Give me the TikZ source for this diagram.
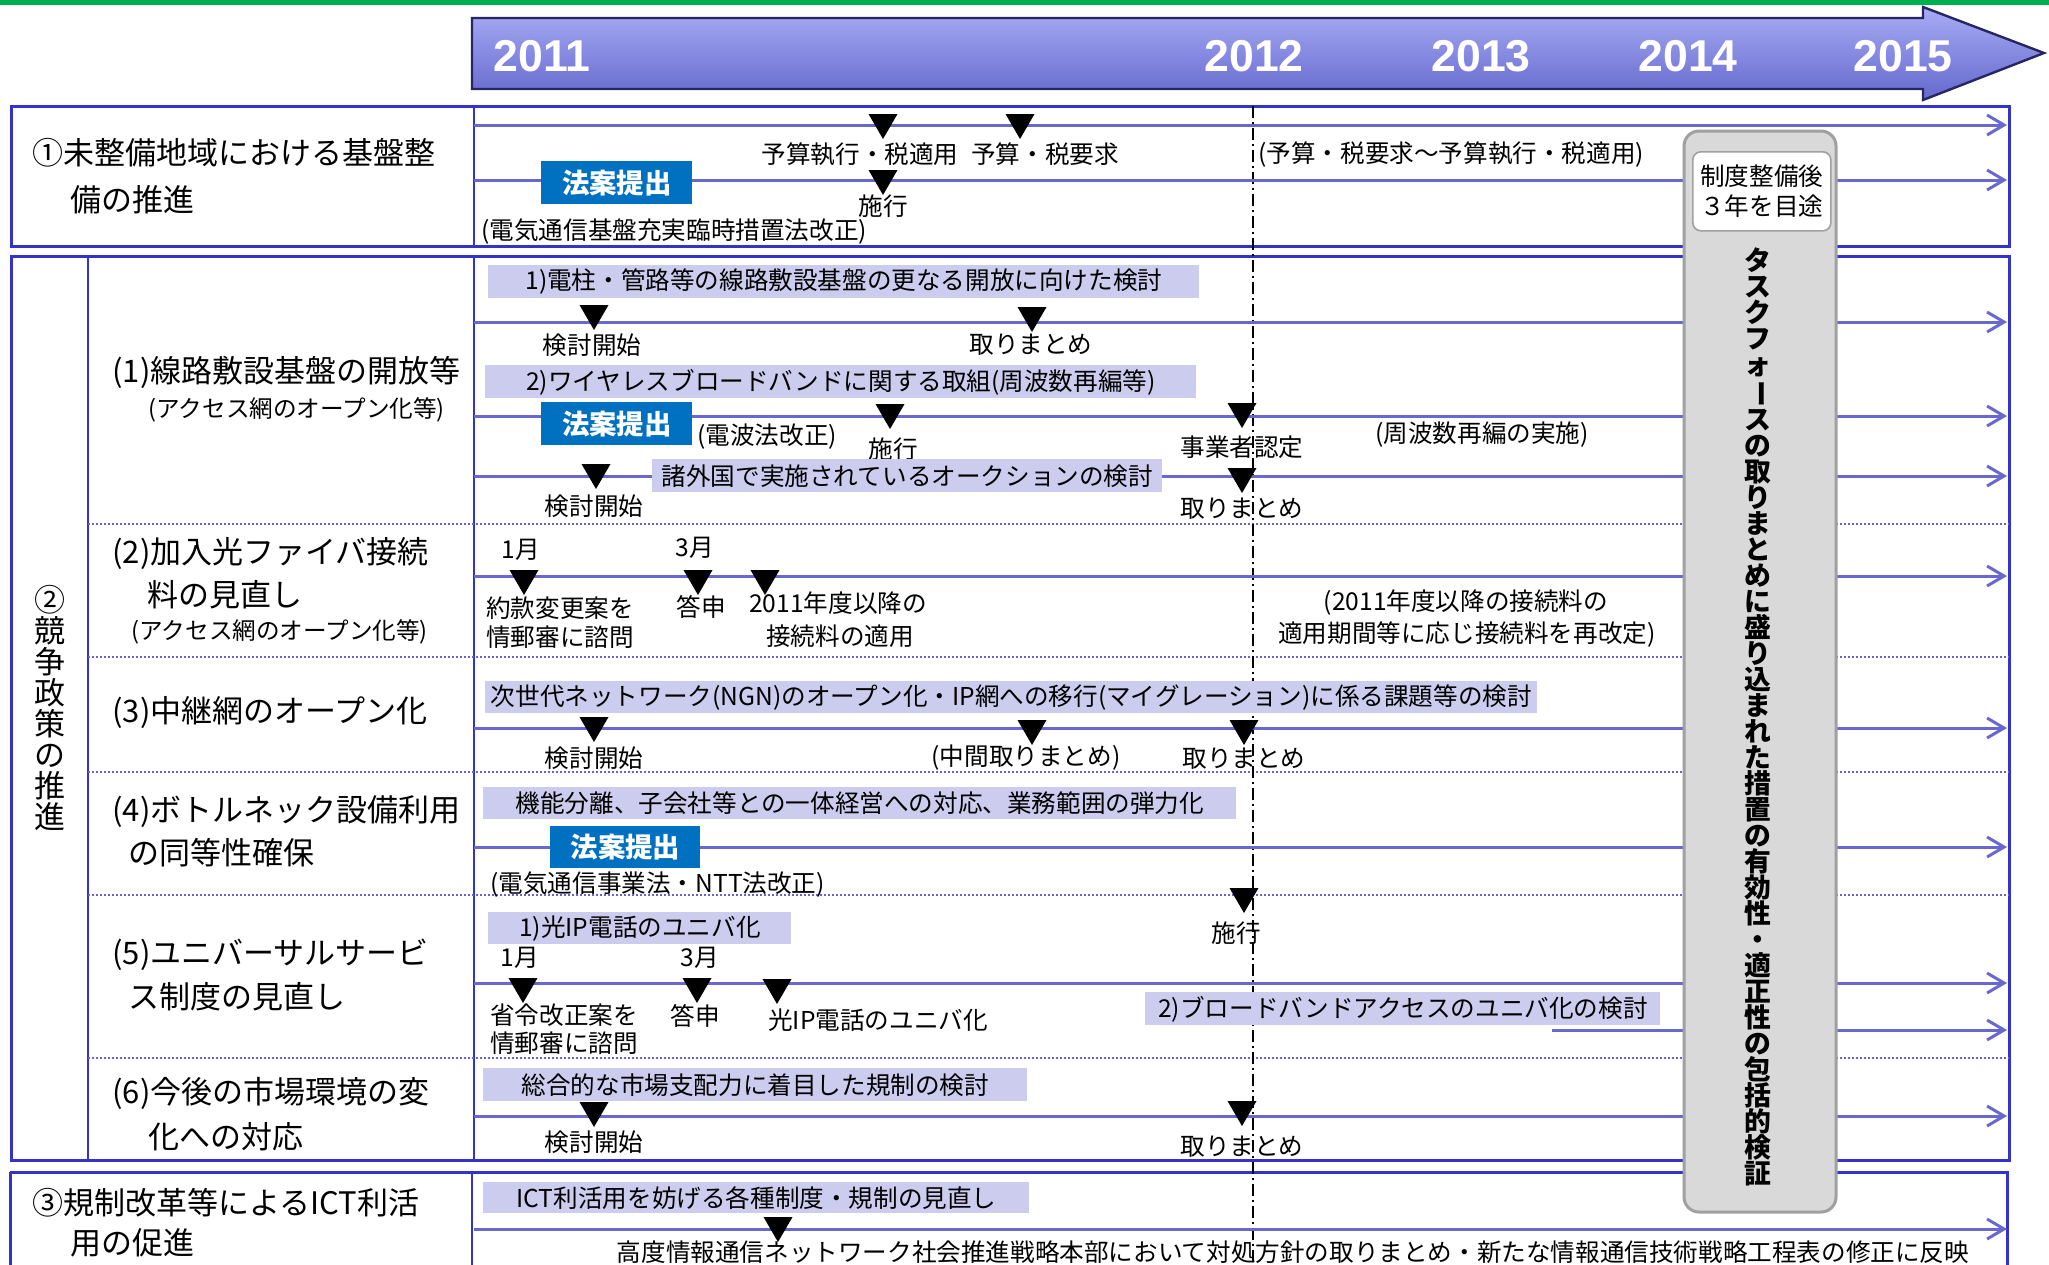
\documentclass[tikz,border=0pt]{standalone}
\usepackage{fontspec}
\usepackage{graphicx}
\setmainfont{Noto Sans CJK JP}
\newfontfamily\yrfont{Liberation Sans}
\usetikzlibrary{arrows.meta}
\definecolor{frameblue}{RGB}{51,51,204}
\definecolor{lineblue}{RGB}{104,104,206}
\definecolor{lav}{RGB}{204,204,238}
\definecolor{lawblue}{RGB}{0,112,192}
\definecolor{navy}{RGB}{38,38,100}
\definecolor{gbfill}{RGB}{217,217,217}
\definecolor{gbdraw}{RGB}{160,160,160}
\definecolor{grn}{RGB}{0,176,80}
\definecolor{sepblue}{RGB}{100,100,215}
\newcommand\tri[2]{\fill (#1-14.5,#2) -- (#1+14.5,#2) -- (#1,#2+25) -- cycle;}
\begin{document}
\begin{tikzpicture}[x=0.5pt,y=-0.5pt,
  lab/.style={font=\fontsize{15.5}{18}\selectfont, inner sep=0, anchor=west},
  sub/.style={font=\fontsize{11.8}{14}\selectfont, inner sep=0, anchor=west},
  t/.style={font=\fontsize{12.3}{14}\selectfont, inner sep=0},
  lbox/.style={fill=lav, inner sep=0, font=\fontsize{12.3}{14}\selectfont, anchor=north west},
  law/.style={fill=lawblue, text=white, font=\bfseries\fontsize{13.7}{15}\selectfont, inner sep=0, anchor=north west},
  yr/.style={text=white, font=\yrfont\bfseries\fontsize{22.3}{24}\selectfont, inner sep=0},
  tl/.style={draw=lineblue, line width=1.5pt, -{Straight Barb[length=8.5pt,width=10pt]}},
  frm/.style={draw=frameblue, line width=1.5pt},
  div/.style={draw=frameblue, line width=1pt},
  sep/.style={draw=sepblue, line width=0.8pt, dash pattern=on 1pt off 1pt},
  dashdot/.style={draw=black, line width=0.7pt, dash pattern=on 6pt off 2pt on 1pt off 2pt}
]
\useasboundingbox (0,0) rectangle (2049,1264);
\fill[grn] (0,0) rectangle (2049,4.5);

% timeline arrow
\shade[top color={rgb,255:red,168;green,172;blue,245}, middle color={rgb,255:red,125;green,128;blue,222}, bottom color={rgb,255:red,100;green,104;blue,205}]
  (472,18) -- (1923,18) -- (1923,7) -- (2044,53) -- (1923,100) -- (1923,89) -- (472,89) -- cycle;
\draw[navy, line width=1.2pt, line join=miter]
  (472,18) -- (1923,18) -- (1923,7) -- (2044,53) -- (1923,100) -- (1923,89) -- (472,89) -- cycle;
\node[yr] (y11) at (542,56) {2011};
\node[yr] (y12) at (1254,56) {2012};
\node[yr] (y13) at (1481,56) {2013};
\node[yr] (y14) at (1688,56) {2014};
\node[yr] (y15) at (1903,56) {2015};

% frames
\draw[frm] (11,106) rectangle (2009,246);
\draw[div] (474,106) -- (474,246);
\draw[frm] (11,256) rectangle (2009,1160);
\draw[div] (88,256) -- (88,1160);
\draw[div] (474,256) -- (474,1160);
\draw[frm] (10,1172) -- (10,1280);
\draw[frm] (10,1172) -- (2007,1172) -- (2007,1280);
\draw[div] (472,1172) -- (472,1280);

% separators
\foreach \yy in {524,657,772,895,1058} {\draw[sep] (88,\yy) -- (2009,\yy);}

% 2012 dash-dot
\draw[dashdot] (1253,106) -- (1253,1264);

% timeline lines
\foreach \yy/\nn in {125/fa,180/fb,322/ra,416/rb,476/rc,576/rd,728/re,847/rf,983/rg,1116/rh,1229/ri} {
  \coordinate (s\nn) at (474,\yy);
  \coordinate (e\nn) at (2007,\yy);
  \draw[tl] (s\nn) -- (e\nn);
}
\coordinate (srj) at (1552,1030);
\coordinate (erj) at (2007,1030);
\draw[tl] (srj) -- (erj);

% ---------- frame 1
\node[lab] (l1a) at (32,153) {①未整備地域における基盤整};
\node[lab] (l1b) at (70,200) {備の推進};
\node[t] (f1t1) at (860,154) {予算執行・税適用};
\node[t] (f1t2) at (1045,154) {予算・税要求};
\node[t] (f1t3) at (883,206) {施行};
\node[t,anchor=west] (f1t4) at (481,232) {(電気通信基盤充実臨時措置法改正)};
\node[t,anchor=west] (f1t5) at (1258,155) {(予算・税要求～予算執行・税適用)};
\node[law, minimum width=75.5pt, minimum height=21.5pt] (law1) at (541,161) {法案提出};
\tri{883}{114}
\tri{1020}{114}
\tri{883}{170}

% ---------- row 1
\node[lab] (r1l) at (112,372) {(1)線路敷設基盤の開放等};
\node[sub] (r1s) at (148,410) {(アクセス網のオープン化等)};
\node[lbox, minimum width=355.5pt, minimum height=16.5pt] (b11) at (488,265) {1)電柱・管路等の線路敷設基盤の更なる開放に向けた検討};
\tri{594}{305}
\node[t] (r1t1) at (592,345) {検討開始};
\tri{1032}{307}
\node[t] (r1t2) at (1031,345) {取りまとめ};
\node[lbox, minimum width=355.5pt, minimum height=16.5pt] (b12) at (485,365) {2)ワイヤレスブロードバンドに関する取組(周波数再編等)};
\node[law, minimum width=75.5pt, minimum height=21.5pt] (law2) at (541,402) {法案提出};
\node[t,anchor=west] (r1t3) at (697,437) {(電波法改正)};
\tri{890}{404}
\node[t] (r1t4) at (893,449) {施行};
\tri{1242}{403}
\node[t] (r1t5) at (1242,447) {事業者認定};
\node[t] (r1t6) at (1482,435) {(周波数再編の実施)};
\tri{596}{464}
\node[t] (r1t7) at (594,506) {検討開始};
\node[lbox, minimum width=255pt, minimum height=16.5pt] (b13) at (652,459) {諸外国で実施されているオークションの検討};
\tri{1242}{468}
\node[t] (r1t8) at (1242,509) {取りまとめ};

% ---------- row 2
\node[lab] (r2l) at (112,553) {(2)加入光ファイバ接続};
\node[lab] (r2l2) at (147,595) {料の見直し};
\node[sub] (r2s) at (131,632) {(アクセス網のオープン化等)};
\node[t] (r2m1) at (521,550) {1月};
\node[t] (r2m3) at (695,548) {3月};
\tri{524}{570}
\tri{698}{570}
\tri{765}{570}
\node[t] (r2t1) at (560,608) {約款変更案を};
\node[t] (r2t2) at (560,637) {情郵審に諮問};
\node[t] (r2t3) at (701,607) {答申};
\node[t] (r2t4) at (838,603) {2011年度以降の};
\node[t] (r2t5) at (840,636) {接続料の適用};
\node[t] (r2t6) at (1466,603) {(2011年度以降の接続料の};
\node[t] (r2t7) at (1467,635) {適用期間等に応じ接続料を再改定)};

% ---------- row 3
\node[lab] (r3l) at (112,713) {(3)中継網のオープン化};
\node[lbox, minimum width=526pt, minimum height=16pt] (b31) at (485,681) {次世代ネットワーク(NGN)のオープン化・IP網への移行(マイグレーション)に係る課題等の検討};
\tri{594}{717}
\node[t] (r3t1) at (594,758) {検討開始};
\tri{1032}{720}
\node[t] (r3t2) at (1026,758) {(中間取りまとめ)};
\tri{1244}{720}
\node[t] (r3t3) at (1244,759) {取りまとめ};

% ---------- row 4
\node[lab] (r4l) at (112,812) {(4)ボトルネック設備利用};
\node[lab] (r4l2) at (128,853) {の同等性確保};
\node[lbox, minimum width=376.5pt, minimum height=16pt] (b41) at (483,787) {機能分離、子会社等との一体経営への対応、業務範囲の弾力化};
\node[law, minimum width=75pt, minimum height=21pt] (law3) at (550,826) {法案提出};
\node[t,anchor=west] (r4t1) at (490,885) {(電気通信事業法・NTT法改正)};
\tri{1244}{888}
\node[t] (r4t2) at (1236,933) {施行};

% ---------- row 5
\node[lab] (r5l) at (112,955) {(5)ユニバーサルサービ};
\node[lab] (r5l2) at (128,997) {ス制度の見直し};
\node[lbox, minimum width=151.5pt, minimum height=16pt] (b51) at (488,912) {1)光IP電話のユニバ化};
\node[t] (r5m1) at (520,958) {1月};
\node[t] (r5m3) at (700,958) {3月};
\tri{523}{978}
\tri{697}{978}
\tri{777}{979}
\node[t] (r5t1) at (564,1015) {省令改正案を};
\node[t] (r5t2) at (564,1043) {情郵審に諮問};
\node[t] (r5t3) at (695,1016) {答申};
\node[t] (r5t4) at (878,1020) {光IP電話のユニバ化};
\node[lbox, minimum width=257.5pt, minimum height=16.5pt] (b52) at (1145,992) {2)ブロードバンドアクセスのユニバ化の検討};

% ---------- row 6
\node[lab] (r6l) at (112,1093) {(6)今後の市場環境の変};
\node[lab] (r6l2) at (148,1137) {化への対応};
\node[lbox, minimum width=272pt, minimum height=16.5pt] (b61) at (483,1068) {総合的な市場支配力に着目した規制の検討};
\tri{594}{1102}
\node[t] (r6t1) at (594,1142) {検討開始};
\tri{1242}{1101}
\node[t] (r6t2) at (1242,1147) {取りまとめ};

% ---------- frame 2 left column
\node[font=\fontsize{15.5}{15.5}\selectfont, align=center, inner sep=0] (f2l) at (50,708) {②\\競\\争\\政\\策\\の\\推\\進};

% ---------- frame 3
\node[lab] (l3a) at (32,1203) {③規制改革等によるICT利活};
\node[lab] (l3b) at (70,1243) {用の促進};
\node[lbox, minimum width=273pt, minimum height=15.5pt] (b71) at (483,1182) {ICT利活用を妨げる各種制度・規制の見直し};
\tri{778}{1217}
\node[t] (f3t1) at (1293,1252) {高度情報通信ネットワーク社会推進戦略本部において対処方針の取りまとめ・新たな情報通信技術戦略工程表の修正に反映};

% ---------- task force box
\draw[gbdraw, fill=gbfill, line width=1.5pt, rounded corners=7.5pt] (1684,131) rectangle (1836,1212);
\node[draw=gbdraw, fill=white, rounded corners=4pt, line width=0.8pt, minimum width=69pt, minimum height=39.5pt, anchor=north west, inner sep=0, align=center, font=\fontsize{12.3}{15}\selectfont] (tf1) at (1692,151) {制度整備後\\３年を目途};
\node[font=\bfseries\fontsize{13.4}{13}\selectfont, align=center, inner sep=0] (tfv) at (1758,717)
{タ\\ス\\ク\\フ\\ォ\\\rotatebox[origin=c]{-90}{ー}\\ス\\の\\取\\り\\ま\\と\\め\\に\\盛\\り\\込\\ま\\れ\\た\\措\\置\\の\\有\\効\\性\\・\\適\\正\\性\\の\\包\\括\\的\\検\\証};
\end{tikzpicture}
\end{document}
